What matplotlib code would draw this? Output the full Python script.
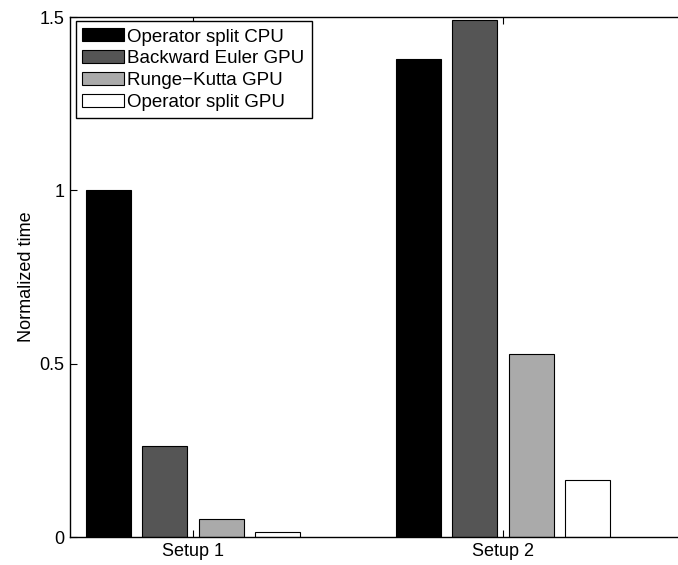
import numpy as np
from matplotlib import pyplot as plt

plt.rcParams['font.family'] = ['Liberation Sans', 'DejaVu Sans']

# normalized run times per setup
setups = ['Setup 1', 'Setup 2']
methods = ['Operator split CPU', 'Backward Euler GPU', 'Runge\u2212Kutta GPU', 'Operator split GPU']
op_split_cpu = [1.0, 1.38]
backward_euler_gpu = [0.262, 1.49]
runge_kutta_gpu = [0.052, 0.527]
op_split_gpu = [0.0135, 0.165]
colors = ['#000000', '#555555', '#aaaaaa', '#ffffff']

series = [op_split_cpu, backward_euler_gpu, runge_kutta_gpu, op_split_gpu]

W, H = 678, 565
fig = plt.figure(figsize=(W / 100, H / 100), dpi=100)
# axes run off the right edge of the figure
x0, x1 = 0.603, 2.7
px_per_unit = 310
left, top, bottom = 70, 17, 537
ax = fig.add_axes([left / W, (H - bottom) / H, (x1 - x0) * px_per_unit / W, (bottom - top) / H])

x = np.arange(1, len(setups) + 1)
n = len(series)
group_width = min(0.8, n / (n + 1.5))
step = group_width / n
width = 0.8 * step
for i, (vals, c, name) in enumerate(zip(series, colors, methods)):
    offset = (i - (n - 1) / 2) * step
    ax.bar(x + offset, vals, width, color=c, edgecolor='black', linewidth=0.8, label=name)

ax.set_xlim(x0, x1)
ax.set_ylim(0, 1.5)
ax.set_xticks(x)
ax.set_xticklabels(setups)
ax.set_yticks([0, 0.5, 1, 1.5])
ax.set_yticklabels(['0', '0.5', '1', '1.5'])
ax.tick_params(direction='in', top=True, right=False, labelsize=13, length=5, pad=4)
ax.set_ylabel('Normalized time', fontsize=13, labelpad=3.5)
for s in ax.spines.values():
    s.set_linewidth(1.0)
ax.spines['right'].set_visible(False)

leg = fig.legend(loc='upper left', bbox_to_anchor=(75.5 / W, 1 - 21.5 / H), fontsize=13.5,
                 fancybox=False, edgecolor='black', framealpha=1,
                 handlelength=2.24, handleheight=0.69, labelspacing=0.25,
                 handletextpad=0.16, borderpad=0.37, borderaxespad=0.0)
leg.get_frame().set_linewidth(1.0)

fig.savefig('out.png', dpi=100)
